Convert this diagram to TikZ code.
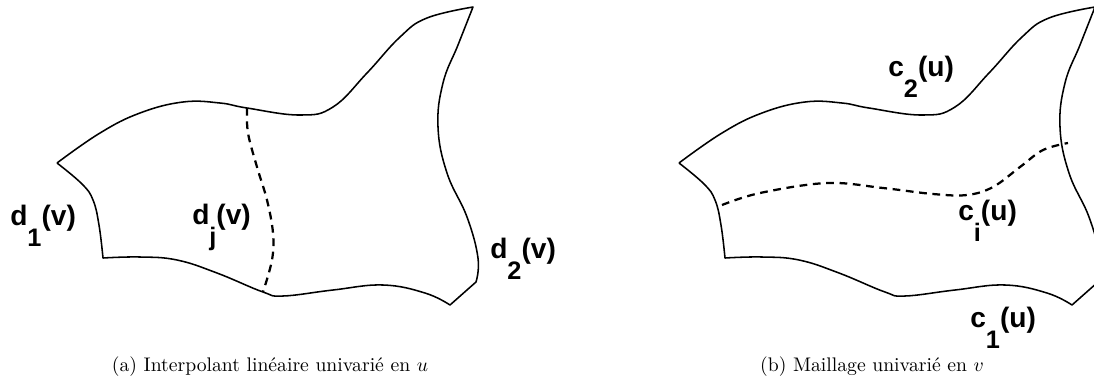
\documentclass[tikz,border=0pt]{standalone}
\usepackage{fontspec}
\usetikzlibrary{positioning}
\newfontfamily\curvefont{Liberation Sans}
\newcommand{\lowsub}[1]{\raisebox{-15pt}{\fontsize{18}{18}\selectfont #1}}

\begin{document}
\begin{tikzpicture}[
    x=0.025cm, y=-0.025cm,
    edge/.style={line width=1.1pt, line join=round},
    iso/.style={line width=1.6pt, dash pattern=on 5.5pt off 4pt},
    lbl/.style={font=\curvefont\bfseries\fontsize{20}{24}\selectfont, anchor=base west, inner sep=0pt},
    caption/.style={font=\fontsize{10}{12}\selectfont, anchor=base, inner sep=0pt, scale=1.4},
    pics/patch/.style={code={
        \draw[edge] plot[smooth, tension=0.7] coordinates {(57,163) (100,133) (140,113) (183,102) (220,103) (247,108) (300,115) (333,107) (367,73) (400,37) (427,18) (473,7)}
            -- plot[smooth, tension=0.7] coordinates {(473,7) (458,45) (443,83) (438,127) (447,173) (467,217) (478,258) (476,282)} -- (450,305)
            -- plot[smooth, tension=0.7] coordinates {(450,305) (425,293) (383,285) (333,290) (283,296) (263,292) (217,273) (177,260) (140,257) (103,258)}
            -- plot[smooth, tension=0.7] coordinates {(103,258) (99,225) (93,200) (82,184) (57,163)};
    }}
]
    \useasboundingbox (0,0) rectangle (1094,391);

    % (a) interpolation along u
    \pic at (0,0) {patch};
    \draw[iso] plot[smooth, tension=0.6] coordinates {(247,108) (248,133) (257,167) (267,200) (273,233) (272,260) (263,292)};
    \node[lbl] (d1) at (10,225) {d\lowsub{1}(v)};
    \node[lbl] (dj) at (192,224) {d\lowsub{j}(v)};
    \node[lbl] (d2) at (490,258) {d\lowsub{2}(v)};
    \node[caption] (capa) at (270,371) {(a) Interpolant linéaire univarié en $u$};

    % (b) mesh along v
    \pic at (622,0) {patch};
    \draw[iso] plot[smooth, tension=0.6] coordinates {(722,205) (760,193) (827,183) (883,188) (933,194) (967,195) (993,187) (1020,167) (1043,150) (1068,143)};
    \node[lbl] (c2) at (888,76) {c\lowsub{2}(u)};
    \node[lbl] (ci) at (958,220) {c\lowsub{i}(u)};
    \node[lbl] (c1) at (970,327) {c\lowsub{1}(u)};
    \node[caption] (capb) at (872,371) {(b) Maillage univarié en $v$};
\end{tikzpicture}
\end{document}
